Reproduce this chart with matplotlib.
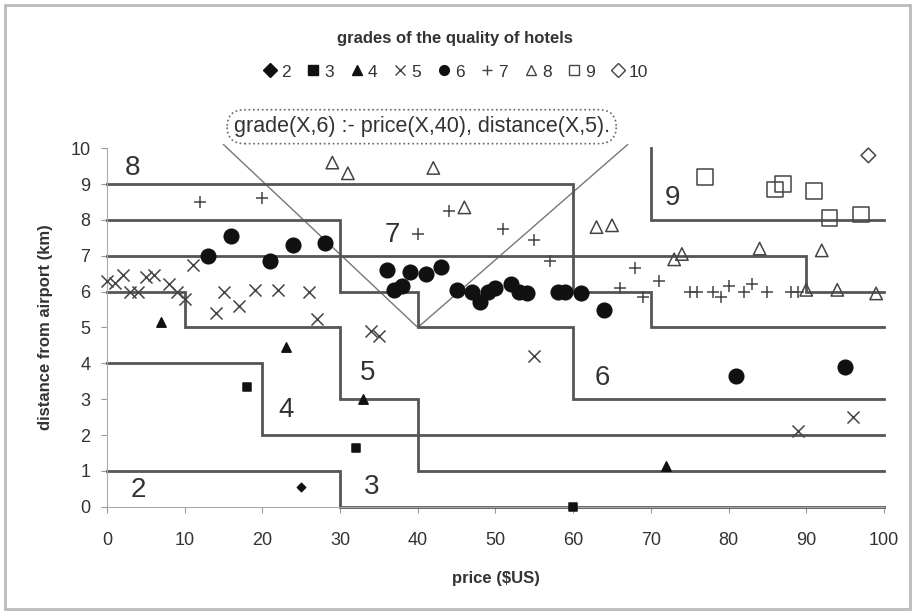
import matplotlib
matplotlib.use("Agg")
import matplotlib.pyplot as plt
from matplotlib.lines import Line2D
from matplotlib.patches import Rectangle

plt.rcParams['font.family'] = ['Liberation Sans', 'DejaVu Sans']

# hotel observations per grade: price ($US), distance (km)
g2_price = [25]
g2_dist = [0.55]
g3_price = [18, 32, 60]
g3_dist = [3.35, 1.65, 0.0]
g4_price = [7, 23, 33, 72]
g4_dist = [5.15, 4.45, 3.0, 1.15]
g5_price = [0, 1, 2, 3, 4, 5, 6, 8, 9, 10, 11, 14, 15, 17, 19, 22, 26, 27, 34, 35, 55, 89, 96]
g5_dist = [6.3, 6.25, 6.45, 6.0, 6.0, 6.4, 6.45, 6.2, 6.0, 5.8, 6.75, 5.4, 6.0, 5.6, 6.05,
           6.05, 6.0, 5.25, 4.9, 4.75, 4.2, 2.1, 2.5]
g6_price = [13, 16, 21, 24, 28, 36, 37, 38, 39, 41, 43, 45, 47, 48, 49, 50, 52, 53, 54,
            58, 59, 61, 64, 81, 95]
g6_dist = [7.0, 7.55, 6.85, 7.3, 7.35, 6.6, 6.05, 6.15, 6.55, 6.5, 6.7, 6.05, 6.0, 5.7,
           6.0, 6.1, 6.2, 6.0, 5.95, 6.0, 6.0, 5.95, 5.5, 3.65, 3.9]
g7_price = [12, 20, 40, 44, 51, 55, 57, 66, 68, 69, 71, 75, 76, 78, 79, 80, 82, 83, 85, 88, 89]
g7_dist = [8.5, 8.6, 7.6, 8.25, 7.75, 7.45, 6.85, 6.1, 6.65, 5.85, 6.3, 6.0, 6.0, 6.0,
           5.85, 6.15, 6.0, 6.2, 6.0, 6.0, 6.0]
g8_price = [29, 31, 42, 46, 63, 65, 73, 74, 84, 90, 92, 94, 99]
g8_dist = [9.6, 9.3, 9.45, 8.35, 7.8, 7.85, 6.9, 7.05, 7.2, 6.05, 7.15, 6.05, 5.95]
g9_price = [77, 86, 87, 91, 93, 97]
g9_dist = [9.2, 8.85, 9.0, 8.8, 8.05, 8.15]
g10_price = [98]
g10_dist = [9.8]

# learned rule boundaries (price, distance corner points)
rule_lines = [
    ([0, 30, 30, 100], [1, 1, 0, 0]),
    ([0, 20, 20, 100], [4, 4, 2, 2]),
    ([0, 10, 10, 30, 30, 40, 40, 100], [6, 6, 5, 5, 3, 3, 1, 1]),
    ([0, 30, 30, 40, 40, 60, 60, 100], [8, 8, 6, 6, 5, 5, 3, 3]),
    ([0, 90, 90, 100], [7, 7, 6, 6]),
    ([0, 60, 60, 70, 70, 100], [9, 9, 6, 6, 5, 5]),
    ([70, 70, 100], [10, 8, 8]),
]

region_names = ['2', '3', '4', '5', '6', '7', '8', '9']
region_price = [4, 34, 23, 33.6, 63.8, 36.7, 3.3, 72.8]
region_dist = [0.47, 0.56, 2.7, 3.73, 3.6, 7.58, 9.44, 8.6]

rule_text = 'grade(X,6) :- price(X,40), distance(X,5).'
rule_point = (40, 5)

fig = plt.figure(figsize=(9.15, 6.15), dpi=100)
ax = fig.add_axes([0.117, 0.176, 0.849, 0.583])

line_col = '#555555'
for xs, ys in rule_lines:
    ax.plot(xs, ys, color=line_col, lw=2.0, clip_on=False, zorder=2,
            solid_joinstyle='miter')

k = '#111111'
series = [
    (g2_price, g2_dist, 'D', 18, k, k, '2'),
    (g3_price, g3_dist, 's', 40, k, k, '3'),
    (g4_price, g4_dist, '^', 45, k, k, '4'),
    (g5_price, g5_dist, 'x', 75, '#444444', None, '5'),
    (g6_price, g6_dist, 'o', 110, k, k, '6'),
    (g7_price, g7_dist, '+', 80, '#444444', None, '7'),
    (g8_price, g8_dist, '^', 80, 'none', '#444444', '8'),
    (g9_price, g9_dist, 's', 130, 'none', '#444444', '9'),
    (g10_price, g10_dist, 'D', 55, 'none', '#444444', '10'),
]
handles = []
for xs, ys, m, s, fc, ec, lab in series:
    if ec is None:
        ax.scatter(xs, ys, marker=m, s=s, c=fc, linewidths=1.1, clip_on=False, zorder=3)
        handles.append(Line2D([], [], marker=m, ls='none', color=fc, markersize=7,
                              markeredgewidth=1.0, label=lab))
    else:
        ax.scatter(xs, ys, marker=m, s=s, facecolors=fc, edgecolors=ec, linewidths=1.1,
                   clip_on=False, zorder=3)
        handles.append(Line2D([], [], marker=m, ls='none', markerfacecolor=fc,
                              markeredgecolor=ec, color=ec, markersize=7, label=lab))

for name, px, py in zip(region_names, region_price, region_dist):
    ax.text(px, py, name, fontsize=20, color='#333333', ha='center', va='center', zorder=4)

# callout bubble for one rule
ax.text(40.5, 10.6, rule_text, fontsize=15.5, color='#333333', ha='center', va='center',
        clip_on=False, zorder=5,
        bbox=dict(boxstyle='round,pad=0.3,rounding_size=0.8', fc='white', ec='#666666',
                  ls=':', lw=1.2))
ax.plot([15.0, rule_point[0], 67.0], [10.1, rule_point[1], 10.1], color='#777777',
        lw=1.0, clip_on=False, zorder=1)

ax.set_xlim(0, 100)
ax.set_ylim(0, 10)
ax.set_xticks(range(0, 101, 10))
ax.set_yticks(range(0, 11))
ax.tick_params(direction='out', length=4, color='#999999', labelcolor='#333333',
               labelsize=13)
ax.tick_params(axis='x', pad=14)
ax.tick_params(axis='y', pad=8)
for side in ['top', 'right']:
    ax.spines[side].set_visible(False)
for side in ['left', 'bottom']:
    ax.spines[side].set_color('#aaaaaa')

ax.set_xlabel('price ($US)', fontsize=12, fontweight='bold', color='#333333')
ax.set_ylabel('distance from airport (km)', fontsize=12, fontweight='bold',
              color='#333333')
ax.xaxis.set_label_coords(0.5, -0.178)
ax.yaxis.set_label_coords(-0.07, 0.5)

fig.text(0.497, 0.938, 'grades of the quality of hotels', fontsize=12, fontweight='bold',
         color='#333333', ha='center', va='center')
leg = fig.legend(handles=handles, loc='center', bbox_to_anchor=(0.497, 0.883), ncol=9,
                 frameon=False, fontsize=12.5, handletextpad=0.15, columnspacing=0.8,
                 handlelength=1.0)
for t in leg.get_texts():
    t.set_color('#333333')

fig.patches.append(Rectangle((0.006, 0.01), 0.988, 0.982, transform=fig.transFigure,
                             fill=False, ec='#bbbbbb', lw=2))

fig.savefig('out.png', dpi=100, facecolor='white')
